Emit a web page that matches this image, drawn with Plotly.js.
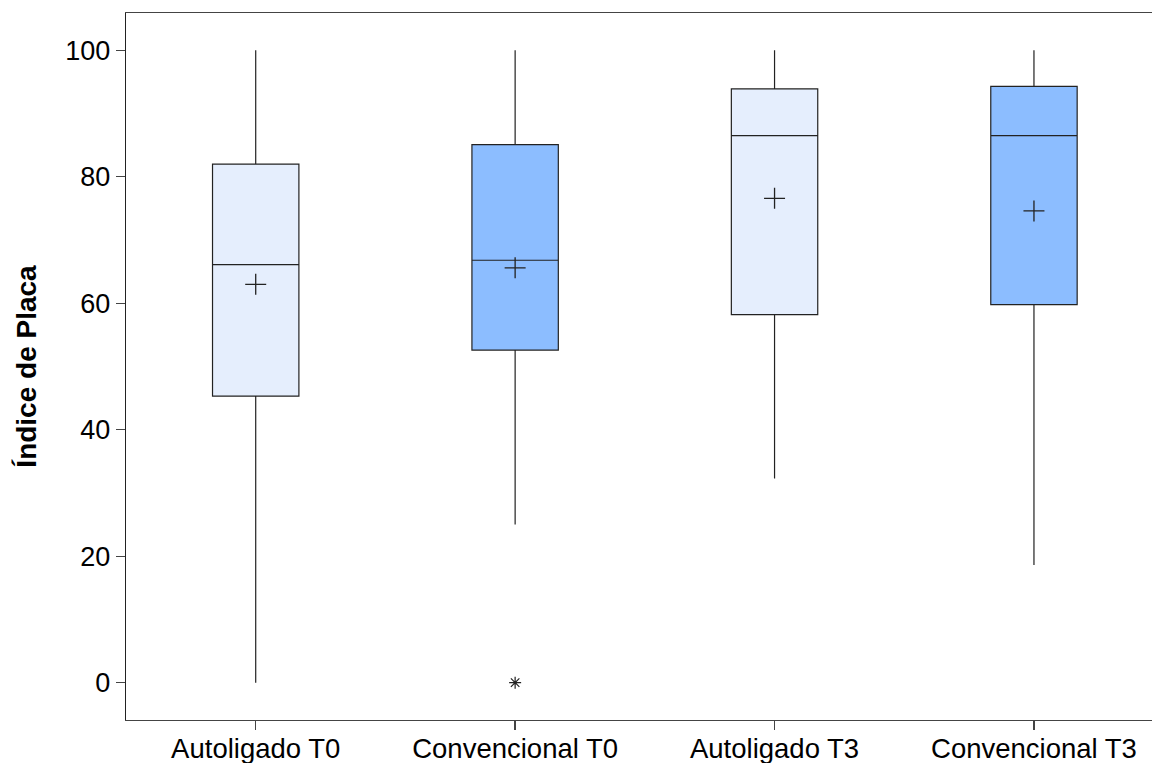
<!DOCTYPE html>
<html>
<head>
<meta charset="utf-8">
<script src="https://cdn.plot.ly/plotly-3.0.1.min.js"></script>
<style>html,body{margin:0;padding:0;overflow:hidden;background:#fff}</style>
</head>
<body>
<div id="chart" style="width:1152px;height:763px"></div>
<script>
const categories = ["Autoligado T0", "Convencional T0", "Autoligado T3", "Convencional T3"];
const q1Values = [45.3, 52.6, 58.2, 59.8];
const medianValues = [66.1, 66.8, 86.5, 86.5];
const q3Values = [82.0, 85.1, 93.9, 94.3];
const lowerWhisker = [0, 25.0, 32.3, 18.6];
const upperWhisker = [100, 100, 100, 100];
const meanValues = [63.0, 65.6, 76.6, 74.6];
const outlierCategories = ["Convencional T0"];
const outlierValues = [0];
const boxColors = ["#E5EEFD", "#8CBDFF", "#E5EEFD", "#8CBDFF"];

const traces = categories.map((c, i) => ({
  type: "box",
  x: [c],
  q1: [q1Values[i]],
  median: [medianValues[i]],
  q3: [q3Values[i]],
  lowerfence: [lowerWhisker[i]],
  upperfence: [upperWhisker[i]],
  fillcolor: boxColors[i],
  line: {color: "#222", width: 1.2},
  whiskerwidth: 0,
  width: 0.333,
  boxpoints: false,
  hoverinfo: "skip",
  showlegend: false
}));

traces.push({
  type: "scatter", mode: "markers",
  x: categories, y: meanValues,
  marker: {symbol: "cross-thin-open", size: 15, color: "#222", line: {color: "#222", width: 1.3}},
  showlegend: false, hoverinfo: "skip"
});
traces.push({
  type: "scatter", mode: "markers",
  x: outlierCategories, y: outlierValues,
  marker: {symbol: "asterisk-open", size: 10, color: "#222", line: {color: "#222", width: 1.2}},
  showlegend: false, hoverinfo: "skip"
});

const layout = {
  width: 1152, height: 763,
  margin: {l: 126, r: 0, t: 13, b: 43, pad: 0},
  paper_bgcolor: "#fff", plot_bgcolor: "#fff",
  font: {family: "Liberation Sans, Arial, sans-serif", color: "#000"},
  showlegend: false,
  xaxis: {
    type: "category",
    categoryorder: "array", categoryarray: categories,
    range: [-0.5, 3.455],
    showgrid: false, zeroline: false,
    showline: true, linecolor: "#444", linewidth: 1.3, mirror: true,
    ticks: "outside", ticklen: 9, tickcolor: "#444", tickwidth: 1.3,
    ticklabelstandoff: -5,
    tickfont: {size: 27.5, family: "Liberation Sans, Arial, sans-serif", color: "#000"}
  },
  yaxis: {
    range: [-5.9, 105.9],
    tickvals: [0, 20, 40, 60, 80, 100],
    showgrid: false, zeroline: false,
    showline: true, linecolor: "#222", linewidth: 1.3, mirror: false,
    ticks: "outside", ticklen: 9, tickcolor: "#444", tickwidth: 1.3,
    tickfont: {size: 27, family: "Liberation Sans, Arial, sans-serif", color: "#000"},
    title: {text: "<b>Índice de Placa</b>", font: {size: 28, family: "Liberation Sans, Arial, sans-serif", color: "#000"}, standoff: 20}
  }
};

Plotly.newPlot("chart", traces, layout, {staticPlot: true, displayModeBar: false});
</script>
</body>
</html>
